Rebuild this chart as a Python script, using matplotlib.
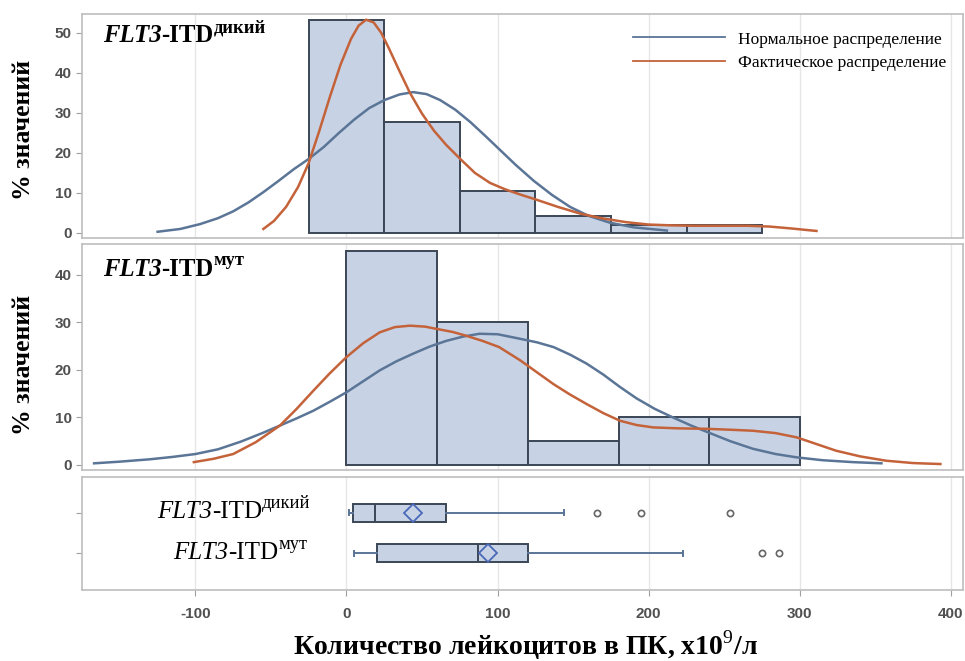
import matplotlib
matplotlib.use("Agg")
from matplotlib import pyplot as plt

# --- data ---
# histograms, % of values
wild_bin_centers = [0, 50, 100, 150, 200, 250]
wild_bin_pct = [53.2, 27.7, 10.6, 4.3, 2.1, 2.1]
mut_bin_centers = [30, 90, 150, 210, 270]
mut_bin_pct = [45.0, 30.0, 5.0, 10.0, 10.0]

wild_norm_x = [-125, -110, -97, -85, -75, -65, -55, -45, -35, -25, -15, -5, 5, 15, 25, 35, 44, 53, 62,
               72, 82, 92, 102, 112, 124, 136, 148, 160, 174, 190, 212]
wild_norm_y = [0.3, 1.0, 2.2, 3.7, 5.4, 7.6, 10.2, 13.0, 15.9, 18.5, 21.5, 25.0, 28.3, 31.2, 33.2, 34.6, 35.2, 34.7, 33.2,
               30.8, 27.7, 24.2, 20.6, 17.0, 13.0, 9.5, 6.5, 4.3, 2.6, 1.4, 0.6]
mut_norm_x = [-167, -150, -130, -115, -100, -85, -70, -55, -44, -33, -22, -11, 0, 11, 22, 33, 44, 55, 66, 77, 88,
              100, 114, 126, 137, 148, 159, 170, 181, 192, 204, 216, 228, 239, 254, 269, 284, 298, 315, 335, 354]
mut_norm_y = [0.35, 0.7, 1.2, 1.7, 2.3, 3.3, 4.9, 6.8, 8.3, 9.8, 11.4, 13.3, 15.3, 17.6, 19.9, 21.8, 23.4, 24.9, 26.1, 27.0, 27.6,
              27.5, 26.6, 25.8, 24.8, 23.2, 21.3, 19.0, 16.4, 14.0, 11.8, 10.0, 8.3, 6.9, 5.0, 3.4, 2.3, 1.6, 1.0, 0.6, 0.35]

wild_kde_x = [-55, -48, -40, -32, -25, -18, -11, -4, 3, 8, 13, 18, 23, 28, 35, 42, 50, 58, 66, 75, 85, 95,
              105, 115, 125, 140, 155, 170, 185, 200, 215, 230, 250, 265, 280, 295, 311]
wild_kde_y = [1.0, 3.0, 6.5, 11.5, 17.5, 25.5, 34.0, 42.0, 48.5, 51.8, 53.3, 52.6, 50.0, 46.2, 40.5, 35.0, 29.8, 25.5, 22.0, 18.6, 15.0, 12.5,
              10.9, 9.6, 8.4, 6.5, 4.8, 3.6, 2.7, 2.1, 1.9, 1.8, 1.8, 1.8, 1.6, 1.1, 0.5]
mut_kde_x = [-101, -88, -75, -60, -44, -33, -22, -11, 0, 11, 22, 32, 42, 52, 60, 70, 79, 90, 101, 115, 126, 137,
             148, 159, 170, 181, 192, 203, 220, 239, 255, 269, 284, 298, 311, 324, 340, 357, 375, 393]
mut_kde_y = [0.6, 1.3, 2.3, 4.8, 8.3, 11.8, 15.6, 19.3, 22.7, 25.6, 27.9, 29.0, 29.3, 29.1, 28.6, 28.0, 27.2, 26.1, 24.8, 22.0, 19.5, 17.0,
             14.8, 12.8, 10.9, 9.3, 8.4, 7.9, 7.7, 7.6, 7.4, 7.2, 6.7, 5.8, 4.4, 3.0, 1.8, 0.9, 0.4, 0.2]

# box plot summary
box_whislo = [1.5, 5]
box_q1 = [4.6, 20]
box_med = [19, 87]
box_mean = [44, 93.5]
box_q3 = [66, 120]
box_whishi = [144, 223]
box_fliers = [[166, 195, 254], [275, 286]]

x_ticks = [-100, 0, 100, 200, 300, 400]

BAR = "#c7d3e5"
EDGE = "#3b4656"
BLUE = "#5b7597"
ORANGE = "#c4623a"
GRID = "#e6e6e6"
SPINE = "#bdbdbd"
SERIF = "Liberation Serif"

plt.rcParams["font.family"] = ["Liberation Sans", "DejaVu Sans"]
plt.rcParams["axes.unicode_minus"] = False
plt.rcParams["mathtext.fontset"] = "custom"
plt.rcParams["mathtext.rm"] = "Liberation Serif"
plt.rcParams["mathtext.bf"] = "Liberation Serif:bold"

fig = plt.figure(figsize=(9.65, 6.61), dpi=100)
ax1 = fig.add_axes([0.085, 0.640, 0.913, 0.339])
ax2 = fig.add_axes([0.085, 0.289, 0.913, 0.342], sharex=ax1)
ax3 = fig.add_axes([0.085, 0.107, 0.913, 0.172], sharex=ax1)


def style_axes(ax):
    ax.set_xlim(-175, 408)
    ax.set_xticks(x_ticks)
    ax.grid(axis="x", color=GRID, lw=1)
    ax.set_axisbelow(True)
    for s in ax.spines.values():
        s.set_color(SPINE)
        s.set_linewidth(1.2)
    ax.tick_params(colors="#a0a0a0", labelcolor="#505050", labelsize=11, length=4)
    for lab in ax.get_xticklabels() + ax.get_yticklabels():
        lab.set_fontweight("bold")


def group_label(ax, x, y, sup, bold, size, ratio=0.75):
    w = "bold" if bold else "normal"
    t1 = ax.annotate("FLT3", (x, y), xycoords="figure pixels", family=SERIF, style="italic",
                     weight=w, fontsize=size, va="center", ha="left")
    t2 = ax.annotate("-ITD", (1, 0), xycoords=t1, family=SERIF, weight=w,
                     fontsize=size, va="bottom", ha="left")
    ax.annotate(sup, (1, 0.5), xycoords=t2, family=SERIF, weight=w,
                fontsize=size * ratio, va="bottom", ha="left")


for ax, cx, h, w, nx, ny, kx, ky, ylim, yt in [
    (ax1, wild_bin_centers, wild_bin_pct, 50, wild_norm_x, wild_norm_y, wild_kde_x, wild_kde_y, (-1.25, 54.75), [0, 10, 20, 30, 40, 50]),
    (ax2, mut_bin_centers, mut_bin_pct, 60, mut_norm_x, mut_norm_y, mut_kde_x, mut_kde_y, (-1.05, 46.5), [0, 10, 20, 30, 40]),
]:
    ax.bar(cx, h, width=w, color=BAR, edgecolor=EDGE, linewidth=1.4, zorder=2)
    ax.plot(nx, ny, color=BLUE, lw=1.8, zorder=3, label="Нормальное распределение")
    ax.plot(kx, ky, color=ORANGE, lw=1.8, zorder=4, label="Фактическое распределение")
    ax.set_ylim(*ylim)
    ax.set_yticks(yt)
    style_axes(ax)
    ax.tick_params(axis="x", length=0, labelbottom=False)

# titles inside panels
group_label(ax1, 103, 625, "дикий", True, 17.8)
group_label(ax2, 103, 392, "мут", True, 17.8)

leg = ax1.legend(loc="upper left", bbox_to_anchor=(0.625, 0.922), frameon=False,
                 handlelength=5.3, handletextpad=0.75, labelspacing=0.42,
                 borderpad=0, borderaxespad=0, prop={"family": SERIF, "size": 12.5})
for line in leg.get_lines():
    line.set_linewidth(1.3)

# box plot panel
stats = []
for i in range(2):
    stats.append({"whislo": box_whislo[i], "q1": box_q1[i], "med": box_med[i],
                  "mean": box_mean[i], "q3": box_q3[i], "whishi": box_whishi[i],
                  "fliers": box_fliers[i]})
ax3.bxp(stats, positions=[1, 2], vert=False, widths=0.44, patch_artist=True, showmeans=True,
        boxprops=dict(facecolor=BAR, edgecolor=EDGE, linewidth=1.4),
        medianprops=dict(color=EDGE, linewidth=1.4),
        whiskerprops=dict(color=BLUE, linewidth=1.4),
        capprops=dict(color=BLUE, linewidth=1.4),
        capwidths=0.12,
        meanprops=dict(marker="D", markerfacecolor="none", markeredgecolor="#4a68b8",
                       markersize=9, markeredgewidth=1.3),
        flierprops=dict(marker="o", markerfacecolor="none", markeredgecolor="#666666",
                        markersize=4.5, markeredgewidth=1.2))
ax3.set_ylim(2.90, 0.12)
ax3.set_yticks([1, 2])
style_axes(ax3)
ax3.set_yticklabels([])
ax3.tick_params(axis="x", pad=8)

group_label(ax3, 157, 149, "дикий", False, 18, 0.74)
group_label(ax3, 173, 108, "мут", False, 18, 0.74)

fig.text(24 / 965, 1 - 130 / 661, "% значений", rotation=90, family=SERIF, weight="bold",
         fontsize=18.5, ha="center", va="center")
fig.text(24 / 965, 1 - 365 / 661, "% значений", rotation=90, family=SERIF, weight="bold",
         fontsize=18.5, ha="center", va="center")
fig.text(525 / 965, 1 - 645 / 661, "Количество лейкоцитов в ПК, x10$^{9}$/л", family=SERIF,
         weight="bold", fontsize=20, ha="center", va="center")

fig.savefig("out.png", dpi=100)
